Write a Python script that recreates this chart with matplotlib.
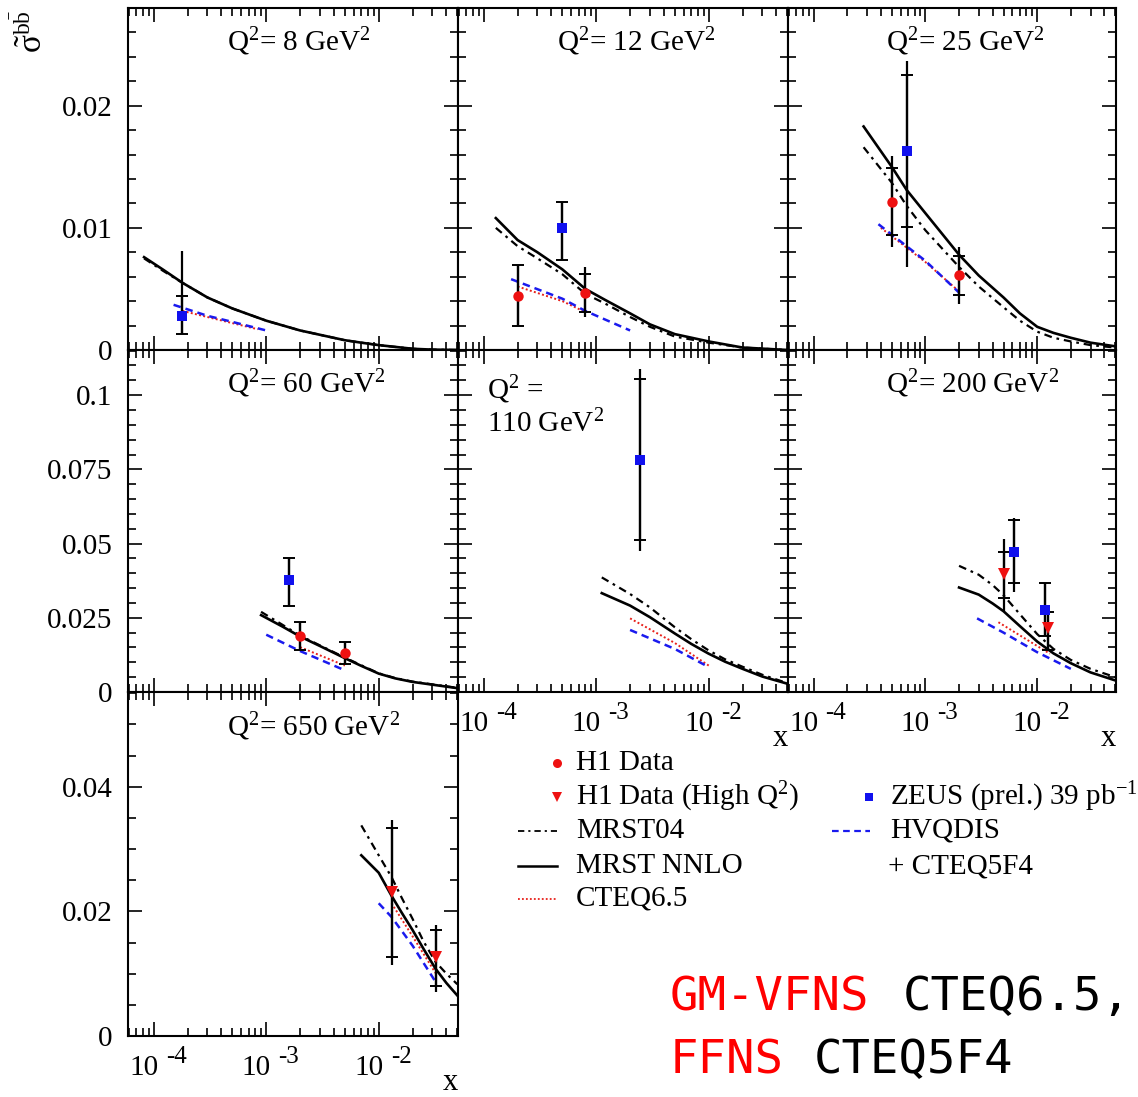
import numpy as np
import matplotlib
matplotlib.use("Agg")
import matplotlib.pyplot as plt
from matplotlib.ticker import FixedLocator, LogLocator, NullFormatter, FixedFormatter

plt.rcParams["font.family"] = ["Liberation Serif", "DejaVu Serif"]
plt.rcParams["mathtext.fontset"] = "custom"
plt.rcParams["mathtext.rm"] = "Liberation Serif"
plt.rcParams["mathtext.it"] = "Liberation Serif:italic"
plt.rcParams["mathtext.bf"] = "Liberation Serif:bold"

# ---- data ----
panel_q2 = [8, 12, 25, 60, 110, 200, 650]

# H1 data (circles)
h1_q2 = [12, 12, 25, 25, 60, 60]
h1_x = [2.0e-4, 8.0e-4, 5.0e-4, 2.0e-3, 2.0e-3, 5.0e-3]
h1_y = [0.0044, 0.0047, 0.0121, 0.0061, 0.0190, 0.0131]
h1_stat_lo = [0.0020, 0.0031, 0.0094, 0.0045, 0.0140, 0.0095]
h1_stat_hi = [0.0070, 0.0062, 0.0149, 0.0077, 0.0235, 0.0168]
h1_tot_lo = [0.0020, 0.0027, 0.0084, 0.0038, 0.0140, 0.0095]
h1_tot_hi = [0.0070, 0.0068, 0.0159, 0.0084, 0.0235, 0.0168]

# H1 data, high Q2 (triangles)
h1hi_q2 = [200, 200, 650, 650]
h1hi_x = [5.0e-3, 1.26e-2, 1.3e-2, 3.2e-2]
h1hi_y = [0.0397, 0.0215, 0.0231, 0.0127]
h1hi_stat_lo = [0.0315, 0.0140, 0.0127, 0.0080]
h1hi_stat_hi = [0.0473, 0.0268, 0.0333, 0.0170]
h1hi_tot_lo = [0.0274, 0.0140, 0.0114, 0.0071]
h1hi_tot_hi = [0.0514, 0.0268, 0.0347, 0.0178]

# ZEUS (prel.) 39 pb-1 (squares)
zeus_q2 = [8, 12, 25, 60, 110, 200, 200]
zeus_x = [1.8e-4, 5.0e-4, 6.8e-4, 1.6e-3, 2.45e-3, 6.15e-3, 1.18e-2]
zeus_y = [0.0028, 0.0100, 0.0163, 0.0378, 0.0780, 0.0473, 0.0277]
zeus_stat_lo = [0.0013, 0.0074, 0.0101, 0.0291, 0.0511, 0.0366, 0.0190]
zeus_stat_hi = [0.0044, 0.0121, 0.0225, 0.0453, 0.1054, 0.0578, 0.0366]
zeus_tot_lo = [0.0013, 0.0074, 0.0068, 0.0291, 0.0475, 0.0336, 0.0190]
zeus_tot_hi = [0.0081, 0.0121, 0.0237, 0.0453, 0.1087, 0.0587, 0.0366]

# MRST NNLO (solid) and MRST04 (dash-dot), same x grid
mrst_q2 = [8] * 13 + [12] * 12 + [25] * 13 + [60] * 10 + [110] * 10 + [200] * 10 + [650] * 9
mrst_x = [8.2e-5, 1.2e-4, 1.8e-4, 3e-4, 5e-4, 1e-3, 2e-3, 5e-3, 7e-3, 1e-2, 2e-2, 3e-2, 5e-2,
          1.28e-4, 2e-4, 3e-4, 5e-4, 8e-4, 1.2e-3, 2e-3, 3e-3, 5e-3, 1e-2, 2e-2, 5e-2,
          2.8e-4, 5e-4, 6.8e-4, 1e-3, 2e-3, 3e-3, 5e-3, 7e-3, 1e-2, 1.4e-2, 2e-2, 3e-2, 5e-2,
          9e-4, 1.4e-3, 2e-3, 3e-3, 5e-3, 7e-3, 1e-2, 1.4e-2, 2e-2, 5e-2,
          1.12e-3, 2e-3, 3e-3, 5e-3, 7e-3, 1e-2, 1.4e-2, 2e-2, 3e-2, 5e-2,
          2e-3, 3e-3, 4e-3, 5e-3, 7e-3, 1e-2, 1.4e-2, 2e-2, 3e-2, 5e-2,
          7e-3, 1e-2, 1.3e-2, 1.6e-2, 2e-2, 2.5e-2, 3.2e-2, 4e-2, 5e-2]
nnlo_y = [0.0076, 0.0066, 0.0055, 0.0043, 0.0034, 0.0024, 0.0016, 0.0008, 0.0006, 0.0004, 0.0001, 0.00003, 0.0,
          0.0108, 0.0090, 0.0080, 0.0066, 0.0050, 0.0041, 0.0030, 0.0021, 0.0013, 0.0007, 0.0002, 0.0,
          0.0183, 0.0150, 0.0131, 0.0112, 0.0078, 0.0061, 0.0043, 0.0030, 0.0019, 0.0014, 0.0010, 0.0006, 0.0003,
          0.0259, 0.0220, 0.0187, 0.0155, 0.0114, 0.0088, 0.0062, 0.0046, 0.0034, 0.0013,
          0.0333, 0.0291, 0.0252, 0.0197, 0.0162, 0.0129, 0.0102, 0.0078, 0.0052, 0.0028,
          0.0352, 0.0328, 0.0298, 0.0272, 0.0222, 0.0170, 0.0130, 0.0097, 0.0066, 0.0039,
          0.0290, 0.0262, 0.0225, 0.0198, 0.0170, 0.0140, 0.0108, 0.0085, 0.0065]
mrst04_y = [0.0075, 0.0065, 0.0055, 0.0043, 0.0034, 0.0024, 0.0016, 0.0008, 0.0006, 0.0004, 0.0001, 0.00003, 0.0,
            0.0100, 0.0085, 0.0075, 0.0062, 0.0046, 0.0038, 0.0027, 0.0019, 0.0011, 0.0006, 0.0002, 0.0,
            0.0166, 0.0137, 0.0118, 0.0098, 0.0068, 0.0052, 0.0035, 0.0024, 0.0015, 0.0010, 0.0007, 0.0004, 0.0002,
            0.0270, 0.0226, 0.0190, 0.0157, 0.0116, 0.0090, 0.0063, 0.0047, 0.0035, 0.0014,
            0.0386, 0.0330, 0.0285, 0.0218, 0.0178, 0.0140, 0.0110, 0.0085, 0.0058, 0.0030,
            0.0425, 0.0395, 0.0360, 0.0326, 0.0262, 0.0195, 0.0145, 0.0108, 0.0078, 0.0050,
            0.0338, 0.0290, 0.0255, 0.0222, 0.0188, 0.0152, 0.0119, 0.0100, 0.0083]

# HVQDIS + CTEQ5F4 (blue dashed)
hvq_q2 = [8] * 4 + [12] * 4 + [25] * 3 + [60] * 3 + [110] * 3 + [200] * 4 + [650] * 4
hvq_x = [1.5e-4, 3e-4, 5e-4, 1e-3,
         1.75e-4, 5e-4, 8e-4, 2e-3,
         3.8e-4, 1e-3, 2e-3,
         1e-3, 2e-3, 5e-3,
         2e-3, 5e-3, 1e-2,
         2.9e-3, 5e-3, 1e-2, 2e-2,
         1e-2, 1.3e-2, 2e-2, 3.2e-2]
hvq_y = [0.0037, 0.0028, 0.0023, 0.0016,
         0.0058, 0.0042, 0.0032, 0.0016,
         0.0103, 0.0073, 0.0047,
         0.0193, 0.0138, 0.0073,
         0.0209, 0.0145, 0.0084,
         0.0248, 0.0200, 0.0134, 0.0078,
         0.0213, 0.0191, 0.0145, 0.0087]

# CTEQ6.5 (red dotted)
cteq_q2 = [8] * 3 + [12] * 3 + [25] * 3 + [60] * 2 + [110] * 3 + [200] * 3 + [650] * 3
cteq_x = [1.8e-4, 5e-4, 8.4e-4,
          2e-4, 5e-4, 8e-4,
          4e-4, 1e-3, 2e-3,
          2e-3, 5e-3,
          2e-3, 5e-3, 1e-2,
          4.5e-3, 1e-2, 1.3e-2,
          1.3e-2, 2e-2, 3.2e-2]
cteq_y = [0.0032, 0.0022, 0.0017,
          0.0052, 0.0040, 0.0031,
          0.0100, 0.0072, 0.0048,
          0.0151, 0.0089,
          0.0248, 0.0165, 0.0089,
          0.0235, 0.0155, 0.0129,
          0.0213, 0.0160, 0.0101]

titles = {8: r"Q$^2$= 8 GeV$^2$", 12: r"Q$^2$= 12 GeV$^2$", 25: r"Q$^2$= 25 GeV$^2$",
          60: r"Q$^2$= 60 GeV$^2$", 110: "Q$^2$ =\n110 GeV$^2$",
          200: r"Q$^2$= 200 GeV$^2$", 650: r"Q$^2$= 650 GeV$^2$"}

row_ymax = [0.028, 0.1152, 0.0552]
row_major = [[0, 0.01, 0.02], [0, 0.025, 0.05, 0.075, 0.1], [0, 0.02, 0.04]]
row_major_lbl = [["0", "0.01", "0.02"], ["0", "0.025", "0.05", "0.075", "0.1"], ["0", "0.02", "0.04"]]
row_minor = [0.002, 0.005, 0.005]

# ---- layout (pixels) ----
W, H = 1138, 1097
col_x = [128, 458, 788]
col_w = [330, 330, 328]
row_y = [8, 350, 692]
row_h = [342, 342, 344]
grid_pos = {8: (0, 0), 12: (1, 0), 25: (2, 0), 60: (0, 1), 110: (1, 1), 200: (2, 1), 650: (0, 2)}
xlabel_panels = [110, 200, 650]
XMIN, XMAX = 5.9e-5, 0.0507
FS = 21

fig = plt.figure(figsize=(W / 100, H / 100), dpi=100)


def sel(q, *cols):
    qa = np.asarray(cols[0])
    m = qa == q
    return [np.asarray(c)[m] for c in cols[1:]]


def errpoints(ax, q, qs, xs, ys, slo, shi, tlo, thi, marker, color, ms):
    x, y, sl, sh, tl, th = sel(q, qs, xs, ys, slo, shi, tlo, thi)
    if len(x) == 0:
        return
    ax.errorbar(x, y, yerr=[y - tl, th - y], fmt="none", ecolor="black",
                elinewidth=1.6, capsize=0, zorder=4)
    ax.errorbar(x, y, yerr=[y - sl, sh - y], fmt="none", ecolor="black",
                elinewidth=1.6, capsize=4.5, capthick=1.4, zorder=4)
    ax.plot(x, y, linestyle="none", marker=marker, color=color, ms=ms,
            markeredgewidth=0, zorder=5)


for q in panel_q2:
    c, r = grid_pos[q]
    ax = fig.add_axes([col_x[c] / W, 1 - (row_y[r] + row_h[r]) / H, col_w[c] / W, row_h[r] / H])
    ax.set_xscale("log")
    ax.set_xlim(XMIN, XMAX)
    ax.set_ylim(0, row_ymax[r])

    x, y = sel(q, cteq_q2, cteq_x, cteq_y)
    ax.plot(x, y, color="#e8201a", lw=1.4, dashes=(1.0, 1.2), zorder=2)
    x, y = sel(q, hvq_q2, hvq_x, hvq_y)
    ax.plot(x, y, color="#1a1aee", lw=1.8, dashes=(3.0, 2.0), zorder=2)
    x, y = sel(q, mrst_q2, mrst_x, mrst04_y)
    ax.plot(x, y, color="black", lw=1.6, dashes=(3.5, 2.2, 1.2, 2.2), zorder=3)
    x, y = sel(q, mrst_q2, mrst_x, nnlo_y)
    ax.plot(x, y, color="black", lw=1.9, zorder=3)

    errpoints(ax, q, h1_q2, h1_x, h1_y, h1_stat_lo, h1_stat_hi, h1_tot_lo, h1_tot_hi, "o", "#ee1111", 7.5)
    errpoints(ax, q, h1hi_q2, h1hi_x, h1hi_y, h1hi_stat_lo, h1hi_stat_hi, h1hi_tot_lo, h1hi_tot_hi, "v", "#ee1111", 8)
    errpoints(ax, q, zeus_q2, zeus_x, zeus_y, zeus_stat_lo, zeus_stat_hi, zeus_tot_lo, zeus_tot_hi, "s", "#1111ee", 6.5)

    # ticks
    ax.yaxis.set_major_locator(FixedLocator(row_major[r]))
    ax.yaxis.set_minor_locator(FixedLocator(np.arange(0, row_ymax[r] + 1e-9, row_minor[r])))
    ax.xaxis.set_major_locator(LogLocator(base=10, numticks=10))
    ax.xaxis.set_minor_locator(LogLocator(base=10, subs=np.arange(2, 10), numticks=20))
    ax.tick_params(which="both", direction="in", top=True, right=True, width=1.2)
    ax.tick_params(which="major", length=10)
    ax.tick_params(which="minor", length=6)
    ax.xaxis.set_major_formatter(NullFormatter())
    ax.xaxis.set_minor_formatter(NullFormatter())
    if c == 0:
        ax.yaxis.set_major_formatter(FixedFormatter(row_major_lbl[r]))
        ax.tick_params(axis="y", labelsize=FS, pad=11)
    else:
        ax.yaxis.set_major_formatter(NullFormatter())
    for s in ax.spines.values():
        s.set_linewidth(1.5)

    if q == 110:
        ax.text(0.088, 0.93, titles[q], transform=ax.transAxes, ha="left", va="top",
                fontsize=FS, linespacing=1.15)
    else:
        ax.text(0.30, 0.90, titles[q], transform=ax.transAxes, ha="left", va="center", fontsize=FS)

    if q in xlabel_panels:
        for e in [-4, -3, -2]:
            ax.annotate("10", xy=(10.0 ** e, 0), xycoords=("data", "axes fraction"),
                        xytext=(-10, -19), textcoords="offset pixels",
                        ha="center", va="top", fontsize=FS)
            ax.annotate(str(e), xy=(10.0 ** e, 0), xycoords=("data", "axes fraction"),
                        xytext=(12, -10), textcoords="offset pixels",
                        ha="left", va="top", fontsize=FS - 3)
        ax.annotate("x", xy=(1, 0), xycoords="axes fraction", xytext=(-8, -47),
                    textcoords="offset pixels", ha="center", va="center", fontsize=FS + 1)

# y label
fig.text(31 / W, 1 - 10 / H, r"$\tilde{\mathrm{\sigma}}^{\mathrm{b\bar{b}}}$", rotation=90,
         ha="center", va="top", fontsize=FS + 3)

# ---- legend drawn in pixel space ----
lg = fig.add_axes([0, 0, 1, 1])
lg.set_xlim(0, W)
lg.set_ylim(H, 0)
lg.axis("off")
lg.patch.set_alpha(0)

lg.plot([557], [763], "o", color="#ee1111", ms=6.5, mew=0)
lg.text(576, 763, "H1 Data", ha="left", va="center", fontsize=FS)
lg.plot([557], [797], "v", color="#ee1111", ms=7, mew=0)
lg.text(576, 797, r"H1 Data (High Q$^2$)", ha="left", va="center", fontsize=FS)
lg.plot([518, 557], [831, 831], color="black", lw=1.3, dashes=(3.5, 2.2, 1.2, 2.2))
lg.text(576, 831, "MRST04", ha="left", va="center", fontsize=FS)
lg.plot([518, 557], [866, 866], color="black", lw=1.8)
lg.text(576, 866, "MRST NNLO", ha="left", va="center", fontsize=FS)
lg.plot([518, 557], [899, 899], color="#e8201a", lw=1.3, dashes=(1.0, 1.2))
lg.text(576, 899, "CTEQ6.5", ha="left", va="center", fontsize=FS)

lg.plot([869], [797], "s", color="#1111ee", ms=6, mew=0)
lg.text(890, 797, r"ZEUS (prel.) 39 pb$^{-1}$", ha="left", va="center", fontsize=FS)
lg.plot([832, 870], [831, 831], color="#1a1aee", lw=1.6, dashes=(3.0, 2.0))
lg.text(890, 831, "HVQDIS", ha="left", va="center", fontsize=FS)
lg.text(888, 866, "+ CTEQ5F4", ha="left", va="center", fontsize=FS)

# scheme annotation
mono = "DejaVu Sans Mono"
lg.text(670, 998, "GM-VFNS", color="#ff0000", family=mono, fontsize=34, ha="left", va="center")
lg.text(903, 998, "CTEQ6.5,", color="black", family=mono, fontsize=34, ha="left", va="center")
lg.text(670, 1061, "FFNS", color="#ff0000", family=mono, fontsize=34, ha="left", va="center")
lg.text(814, 1061, "CTEQ5F4", color="black", family=mono, fontsize=34, ha="left", va="center")

fig.savefig("out.png", dpi=100)
